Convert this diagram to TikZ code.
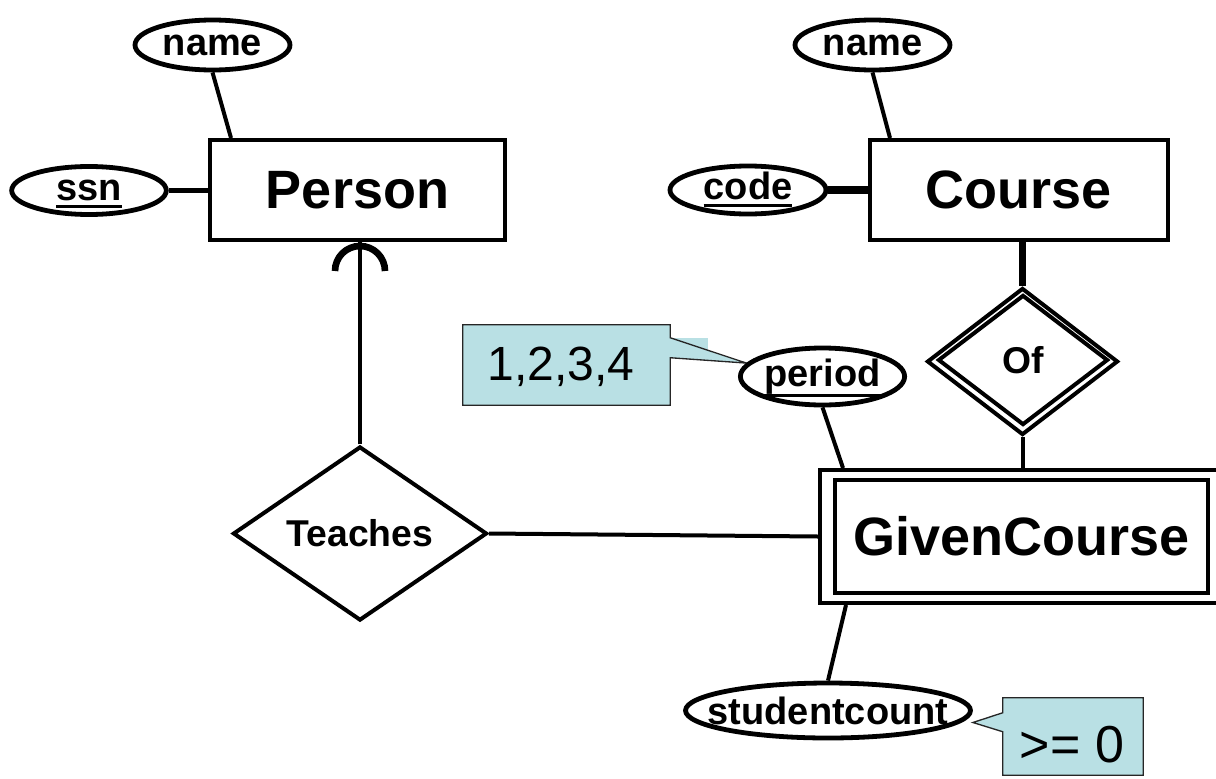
\documentclass[tikz,border=0pt]{standalone}
\usepackage{fontspec}
\setmainfont{Liberation Sans}
\usetikzlibrary{shapes.geometric,backgrounds}
\definecolor{noteblue}{RGB}{185,224,228}
% underline for key attributes, placed at a given distance below the baseline
\newcommand\keyline[2][4.5pt]{\setbox0\hbox{#2}\rlap{\rule[\dimexpr-#1-1.1pt\relax]{\wd0}{2.2pt}}\box0}
\begin{document}
\begin{tikzpicture}[x=0.75pt,y=-0.75pt,
  every node/.style={inner sep=0pt},
  entity/.style={draw, rectangle, line width=3pt, font=\fontsize{40.5}{44}\selectfont\bfseries},
  attr/.style={draw, ellipse, line width=3.6pt, font=\fontsize{28.5}{32}\selectfont\bfseries},
  keyattr/.style={attr, text height=14.8pt, text depth=0pt},
  rel/.style={draw, diamond, line width=3pt, font=\fontsize{28}{32}\selectfont\bfseries},
  link/.style={line width=3pt},
  heavy/.style={line width=5.5pt},
  notebox/.style={rectangle},
  notetext/.style={font=\fontsize{36}{40}\selectfont},
  noteline/.style={draw=black!85, line width=1pt, line join=miter},
]
\useasboundingbox (0,0) rectangle (1216,778);
\clip (0,0) rectangle (1216,778);

% entities
\node[entity, minimum width=221.25pt, minimum height=75pt] (person) at (357.5,190) {Person};
\node[entity, minimum width=223.5pt, minimum height=75pt] (course) at (1019,190) {Course};
\node[draw, rectangle, line width=3pt, minimum width=300.75pt, minimum height=99.75pt] (gco) at (1020.5,536.5) {};
\node[entity, minimum width=279.75pt, minimum height=84.75pt] (gc) at (1021.5,536.5) {GivenCourse};

% attributes
\node[attr, minimum width=116.25pt, minimum height=37.5pt] (pname) at (212.5,45) {name};
\node[keyattr, minimum width=116pt, minimum height=36pt] (ssn) at (89,190.5) {\keyline{ssn}};
\node[attr, minimum width=116.25pt, minimum height=37.5pt] (cname) at (872.5,45) {name};
\node[keyattr, minimum width=117pt, minimum height=36pt] (code) at (748,190) {\keyline{code}};
\node[keyattr, minimum width=116.25pt, minimum height=42.75pt] (period) at (822.5,376.5) {\keyline[6.75pt]{period}};
\node[attr, minimum width=213.75pt, minimum height=41.25pt] (sc) at (828,710.5) {\makebox[0pt]{studentcount}};

% relationships
\node[rel, minimum width=190.5pt, minimum height=125.25pt] (teaches) at (360,533.5) {Teaches};
\node[draw, diamond, line width=3pt, minimum width=143.25pt, minimum height=110.25pt] (ofo) at (1022.5,361.5) {};
\node[rel, minimum width=127.5pt, minimum height=97.5pt] (of) at (1023,360) {Of};

% connectors
\draw[link] (pname.south) -- ([xshift=17.25pt]person.north west);
\draw[line width=3.6pt] (ssn.east) -- (ssn.east -| person.west);
\draw[link] (cname.south) -- ([xshift=16.5pt]course.north west);
\draw[heavy] (code.east) -- (code.east -| course.west);
\draw[heavy] (ofo.north |- course.south) -- (ofo.north);
\draw[link] (ofo.south) -- (ofo.south |- gco.north);
\draw[link] (period.south) -- ([xshift=18.75pt]gco.north west);
\draw[link] ([xshift=21pt]gco.south west) -- (sc.north);
\draw[link] (teaches.east) -- (gco.west);
\draw[link] (teaches.north) -- (teaches.north |- person.south);
\coordinate (arcc) at (360,271);
\draw[line width=5pt] ([xshift=-18.75pt]arcc) arc[start angle=180, end angle=0, radius=18.75pt];

% notes
\node[notebox, minimum width=155.25pt, minimum height=60pt] (n1) at (566.5,365) {};
\node[notetext] (t1) at (561,367) {1,2,3,4};
\node[notebox, minimum width=105pt, minimum height=57.75pt] (n2) at (1073,736.5) {};
\node[notetext, font=\fontsize{39}{42}\selectfont] (t2) at (1072,745) {>= 0};
\begin{scope}[on background layer]
  \fill[noteblue] ([yshift=-9.75pt]n1.north east) rectangle ([xshift=28.5pt,yshift=-24.75pt]n1.north east);
  \path[fill=noteblue, noteline] (n1.north west) -- (n1.north east)
    -- ([yshift=-9.75pt]n1.north east) -- (period.170)
    -- ([yshift=-24.75pt]n1.north east) -- (n1.south east)
    -- (n1.south west) -- cycle;
  \path[fill=noteblue, noteline] (n2.north west) -- (n2.north east)
    -- (n2.south east) -- (n2.south west)
    -- ([yshift=-25.5pt]n2.north west) -- ([yshift=-9pt]sc.east)
    -- ([yshift=-11.25pt]n2.north west) -- cycle;
\end{scope}
\end{tikzpicture}
\end{document}
